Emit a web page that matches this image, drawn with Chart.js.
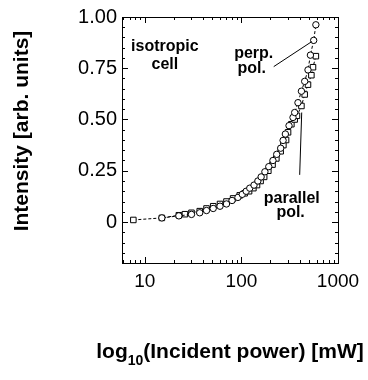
<!DOCTYPE html>
<html>
<head>
<meta charset="utf-8">
<script src="https://cdn.jsdelivr.net/npm/chart.js@4/dist/chart.umd.min.js"></script>
<style>
	body { margin: 0; background: #fff; }
	canvas { display: block; }
</style>
</head>
<body>
<canvas id="plot" width="368" height="380"></canvas>
<script>
// parallel polarisation (squares)
var parX = [7.6, 15, 22.5, 26, 30.4, 37, 43.5, 51, 60, 70, 82, 96, 108, 120, 133, 145, 158, 172, 190, 210, 230, 255, 272, 290, 304, 329, 356, 376, 418, 452, 489, 530, 551, 590];
var parY = [0.01, 0.02, 0.033, 0.038, 0.045, 0.053, 0.066, 0.077, 0.088, 0.1, 0.115, 0.13, 0.14, 0.15, 0.165, 0.18, 0.2, 0.22, 0.25, 0.28, 0.31, 0.345, 0.375, 0.4, 0.4375, 0.477, 0.5, 0.518, 0.566, 0.622, 0.67, 0.716, 0.755, 0.809];
// perpendicular polarisation (circles)
var perpX = [15, 22.5, 30.4, 37, 43.5, 51, 60, 70, 80, 92, 102, 112, 122, 135, 148, 160, 175, 192, 212, 232, 255, 270, 285, 311, 342, 356, 385, 418, 452, 489, 518, 560, 590];
var perpY = [0.02, 0.03, 0.037, 0.045, 0.056, 0.066, 0.077, 0.088, 0.105, 0.12, 0.135, 0.15, 0.165, 0.18, 0.2, 0.22, 0.245, 0.27, 0.3, 0.33, 0.36, 0.398, 0.429, 0.47, 0.51, 0.534, 0.582, 0.638, 0.686, 0.742, 0.814, 0.886, 0.962];

var xTicks = [10, 100, 1000];
var yTicks = [0, 0.25, 0.5, 0.75, 1.0];

var FONT = "'Liberation Sans', Arial, Helvetica, sans-serif";

function toPoints(xs, ys) {
	var pts = [];
	for (var i = 0; i < xs.length; i++) pts.push({ x: xs[i], y: ys[i] });
	return pts;
}

function Series(xs, ys, style, radius) {
	return {
		data: toPoints(xs, ys),
		showLine: true,
		borderColor: "#000",
		borderWidth: 1,
		borderDash: [3, 2],
		pointStyle: style,
		pointRadius: radius,
		pointBackgroundColor: "#fff",
		pointBorderColor: "#000",
		pointBorderWidth: 1,
	};
}

// frame, inward ticks, axis titles and labels
var decoPlugin = {
	id: "deco",
	afterDraw: function (chart) {
		var ctx = chart.ctx;
		var a = chart.chartArea;
		var xs = chart.scales.x;
		var ys = chart.scales.y;
		ctx.save();
		ctx.strokeStyle = "#000";
		ctx.lineWidth = 1;
		ctx.setLineDash([]);
		ctx.strokeRect(a.left + 0.5, a.top + 0.5, a.right - a.left, a.bottom - a.top);

		ctx.beginPath();
		for (var d = 1; d <= 1000; d *= 10) {
			for (var k = 1; k < 10; k++) {
				var v = k * d;
				if (v < xs.min || v > xs.max) continue;
				var px = Math.round(xs.getPixelForValue(v)) + 0.5;
				var len = k === 1 ? 6 : 3;
				ctx.moveTo(px, a.bottom);
				ctx.lineTo(px, a.bottom - len);
				ctx.moveTo(px, a.top);
				ctx.lineTo(px, a.top + len);
			}
		}
		for (var i = -4; i <= 20; i++) {
			var py = Math.round(ys.getPixelForValue(i * 0.05)) + 0.5;
			var l = i % 5 === 0 ? 6 : 3;
			ctx.moveTo(a.left, py);
			ctx.lineTo(a.left + l, py);
			ctx.moveTo(a.right, py);
			ctx.lineTo(a.right - l, py);
		}
		ctx.stroke();

		// leader lines
		ctx.beginPath();
		ctx.moveTo(xs.getPixelForValue(216), ys.getPixelForValue(0.758));
		ctx.lineTo(xs.getPixelForValue(535), ys.getPixelForValue(0.88));
		ctx.moveTo(xs.getPixelForValue(401), ys.getPixelForValue(0.23));
		ctx.lineTo(xs.getPixelForValue(421), ys.getPixelForValue(0.534));
		ctx.stroke();

		ctx.fillStyle = "#000";
		ctx.font = "bold 16px " + FONT;
		ctx.textAlign = "center";
		ctx.textBaseline = "alphabetic";
		function label(t, x, y) {
			ctx.fillText(t, xs.getPixelForValue(x), ys.getPixelForValue(y));
		}
		label("isotropic", 16.1, 0.832);
		label("cell", 16.1, 0.745);
		label("perp.", 134, 0.798);
		label("pol.", 128, 0.726);
		label("parallel", 332, 0.091);
		label("pol.", 323, 0.024);

		// y title
		ctx.save();
		ctx.translate(22, 131);
		ctx.rotate(-Math.PI / 2);
		ctx.font = "bold 21px " + FONT;
		ctx.textBaseline = "middle";
		ctx.fillText("Intensity [arb. units]", 0, 0);
		ctx.restore();

		// x title with subscript
		var main1 = "log", sub = "10", main2 = "(Incident power) [mW]";
		var big = "bold 21px " + FONT, small = "bold 14px " + FONT;
		ctx.font = big;
		var w1 = ctx.measureText(main1).width;
		var w3 = ctx.measureText(main2).width;
		ctx.font = small;
		var w2 = ctx.measureText(sub).width;
		var x0 = (a.left + a.right) / 2 - (w1 + w2 + w3) / 2;
		ctx.textAlign = "left";
		ctx.font = big;
		ctx.fillText(main1, x0, 358);
		ctx.font = small;
		ctx.fillText(sub, x0 + w1, 365);
		ctx.font = big;
		ctx.fillText(main2, x0 + w1 + w2, 358);
		ctx.restore();
	},
};

Chart.defaults.font.family = FONT;
Chart.defaults.color = "#000";

const ctx = document.getElementById("plot");
const myChart = new Chart(ctx, {
	type: "scatter",
	data: {
		datasets: [Series(perpX, perpY, "circle", 3.2), Series(parX, parY, "rect", 3.9)],
	},
	options: {
		responsive: false,
		animation: false,
		devicePixelRatio: 1,
		layout: {
			padding: { left: 0, right: 30, top: 13, bottom: 0 },
		},
		plugins: {
			legend: { display: false },
			tooltip: { enabled: false },
		},
		scales: {
			x: {
				type: "logarithmic",
				min: 5.8,
				max: 1000,
				grid: { display: false, drawTicks: false, tickLength: 0 },
				border: { display: false },
				ticks: {
					font: { size: 19 },
					padding: 7,
					maxRotation: 0,
					autoSkip: false,
					callback: function (v) { return String(v); },
				},
				afterBuildTicks: function (scale) {
					scale.ticks = xTicks.map(function (v) { return { value: v }; });
				},
				afterFit: function (scale) { scale.height = 117; },
			},
			y: {
				min: -0.2,
				max: 1.0,
				grid: { display: false, drawTicks: false, tickLength: 0 },
				border: { display: false },
				ticks: {
					font: { size: 20 },
					padding: 5,
					callback: function (v) { return v === 0 ? "0" : v.toFixed(2); },
				},
				afterBuildTicks: function (scale) {
					scale.ticks = yTicks.map(function (v) { return { value: v }; });
				},
				afterFit: function (scale) { scale.width = 122; },
			},
		},
	},
	plugins: [decoPlugin],
});
</script>
</body>
</html>
